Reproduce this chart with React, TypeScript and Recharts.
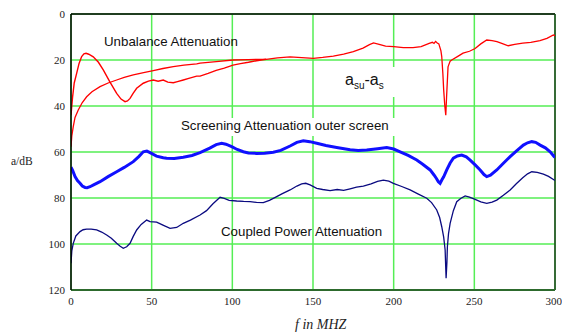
import { LineChart, Line, XAxis, YAxis, CartesianGrid, ReferenceLine } from "recharts";

// [f in MHz, a in dB]
const unbalanceA: number[][] = [
  [0, 44], [1, 36], [2, 30], [3.5, 25.8], [5, 21.5], [6.6, 18.5], [8, 17.3], [9.3, 17.1], [11, 17.5],
  [13.8, 18.6], [17, 21], [20, 24.3], [24, 29.4], [28.3, 34.5], [31, 37], [33.5, 38.1], [35, 37.8],
  [36.6, 36.7], [38.5, 34.5], [40.7, 32.3], [44.8, 30.1], [48, 29.2], [51, 28.7], [54, 29.2], [57.2, 28.7],
  [60, 29.6], [63.4, 29.9], [66, 29.4], [69.6, 28.7], [73, 28], [77.9, 27], [80, 27], [85, 25.8], [90, 24.5],
  [95, 23.5], [100.4, 22.2], [105, 21.6], [110, 21], [115, 20.3], [121, 19.7],
];

const unbalanceB: number[][] = [
  [0, 57.7], [0.5, 53], [1.4, 49], [2.5, 45], [4.5, 41.7], [7, 38.5], [9.7, 36], [13, 33.8], [18, 31.6],
  [23, 30], [28.3, 28.7], [33, 27.6], [38.6, 26.5], [45, 25.5], [51, 24.6], [57, 23.7], [63.4, 22.9],
  [70, 22.2], [77.9, 21.7], [80, 21.4], [90, 20.7], [100.4, 20], [110, 19.8], [121, 19.7], [128, 19.1],
  [135.8, 18.6], [143, 19], [150.2, 19.3], [156, 18.9], [162.6, 18.3], [169, 17.4], [175, 16.4], [181, 14.8],
  [185, 13.3], [187.5, 12.6], [191, 13.2], [195, 14], [200, 14.2], [206, 14.6], [212, 14.6], [217, 14.2],
  [222, 12.8], [224, 12.3], [225, 12.8], [226, 11.9], [227, 12.6], [228, 13], [229.3, 16], [229.8, 18.5],
  [230.5, 26], [231, 33], [231.7, 40], [232.3, 44], [232.8, 36], [233.7, 23], [235, 20.5], [236, 20],
  [240, 18.3], [243, 17], [247, 16.2], [250.5, 15], [254, 13], [257.7, 11.3], [261, 11.6], [264, 12],
  [267, 12.8], [271, 13.8], [275, 13.2], [280, 12.7], [285, 12.3], [290.7, 11.6], [295, 10.6], [299, 9.1],
  [300, 9.5],
];

const screening: number[][] = [
  [0, 66.6], [1, 68], [2.5, 70.7], [4, 72.4], [5.6, 73.6], [7, 74.8], [8.7, 75.4], [10, 75.5], [11.8, 75.1],
  [14, 74.3], [18, 72.9], [23, 70.7], [28.3, 68.6], [33, 66.7], [38.6, 64.2], [42, 62], [44.8, 59.9],
  [47, 59.6], [49, 60.3], [53, 61.8], [57.2, 62.5], [59.3, 62.7], [64, 62.8], [69.6, 62.3], [75, 61.5],
  [80, 60.3], [86, 58.3], [90, 56.8], [93.4, 56.2], [96, 56.6], [99.6, 57.7], [103, 58.9], [106.8, 59.9],
  [110, 60.4], [115.1, 60.6], [120, 60.5], [125.4, 60.1], [130, 59.3], [135.8, 57.4], [140, 55.8],
  [144, 55.1], [148, 55.5], [152.3, 56.2], [158, 57.2], [164.7, 58], [173, 59], [178, 59.3], [183.3, 59.1],
  [190, 58.6], [195.7, 58.1], [200, 58.7], [204, 59.9], [209, 61.5], [214.3, 63.5], [218, 65.3],
  [222.6, 67.8], [225, 70], [226.5, 71.5], [227.7, 72.9], [228.8, 73.6], [230, 72], [231, 70.8],
  [232.9, 67.8], [235, 64.8], [237, 62.7], [239.5, 61.7], [242.2, 61.3], [245, 62.1], [247.4, 63.5],
  [250.5, 65.6], [253.6, 67.8], [256, 69.8], [257.7, 70.7], [260, 70.1], [263.9, 67.8], [268, 64.9],
  [272.2, 62], [276, 59.6], [280.4, 57], [283, 56], [285.6, 55.5], [288, 55.8], [290.8, 57], [294, 58.2],
  [297, 59.9], [299.5, 62], [300, 62.3],
];

const coupled: number[][] = [
  [0, 108.4], [0.5, 103], [1.4, 99.7], [3, 96.5], [5.6, 94.6], [7.5, 93.8], [9.7, 93.5], [12.5, 93.5],
  [15.9, 93.9], [19, 94.8], [22.1, 96.1], [25, 97.5], [28.3, 99.7], [30.5, 101], [32.4, 101.9],
  [34.5, 101.2], [36.6, 99.7], [38.5, 96.8], [40.7, 93.9], [43.5, 91.5], [46.9, 89.6], [49, 90.3],
  [53.1, 90.5], [57, 91.8], [61.4, 93.2], [65.5, 92.8], [69.6, 91], [74, 89.6], [80, 87.4], [84, 85.5],
  [88, 82.5], [92.4, 79.7], [95, 80.2], [98, 81], [102.7, 81.3], [107, 81.5], [111, 81.6], [115, 81.9],
  [119.2, 82], [123, 81], [127.5, 79.4], [131, 78.1], [135.8, 76.5], [140, 74.8], [143, 73.9],
  [145.5, 73.6], [148.2, 74.3], [152.3, 75.8], [156, 76.3], [160.6, 76.8], [165, 76.3], [169, 76.7],
  [173, 76], [177, 75.3], [181.2, 74.8], [186, 73.9], [190, 72.8], [193.6, 72.2], [197, 72.7],
  [199.8, 73.6], [205, 75], [210.2, 76.5], [215, 78.2], [220.5, 80.1], [223.5, 82], [226.7, 85.2],
  [228.5, 88.5], [229.8, 92.5], [231, 97], [231.9, 102.6], [232.5, 114.9], [233, 108], [233.3, 101.2],
  [234, 95.5], [235, 91], [237, 85.5], [239.1, 81.6], [241.5, 80.2], [244.3, 79.1], [247, 79.6],
  [250.5, 80.6], [254, 81.7], [257.7, 82.3], [261, 81.8], [263.9, 80.9], [268, 78.8], [272.2, 76.5],
  [276, 73.8], [280, 71.2], [283, 69.5], [285.6, 68.6], [289, 68.9], [292.8, 69.6], [296, 70.6],
  [299.5, 72.2], [300, 72.4],
];

const xTicks = [0, 50, 100, 150, 200, 250, 300];
const yTicks = [0, 20, 40, 60, 80, 100, 120];

const toRows = (pts: number[][]) => pts.map(([f, a]) => ({ f, a }));

const sans = "'Liberation Sans', Arial, sans-serif";
const serif = "'Liberation Serif', 'Times New Roman', serif";

const tickStyle = { fontFamily: serif, fontSize: 11, fill: "#222" };

const note = (left: number, top: number, extra: any = {}) => ({
  position: "absolute" as const,
  left,
  top,
  fontFamily: sans,
  fontSize: 13.3,
  lineHeight: "16px",
  color: "#111",
  whiteSpace: "nowrap" as const,
  ...extra,
});

export default function App() {
  return (
    <div style={{ position: "absolute", left: 0, top: 0, width: 562, height: 336, background: "#fff" }}>
      <LineChart width={562} height={336} margin={{ top: 14, right: 7, left: 0, bottom: 16 }}>
        <CartesianGrid stroke="#55ee55" strokeWidth={1.5} />
        <XAxis
          dataKey="f"
          type="number"
          domain={[0, 300]}
          ticks={xTicks}
          allowDataOverflow
          tickLine={false}
          tickSize={0}
          tickMargin={7}
          axisLine={{ stroke: "#2d6a2d", strokeWidth: 2 }}
          tick={tickStyle}
          height={30}
        />
        <YAxis
          type="number"
          reversed
          domain={[0, 120]}
          ticks={yTicks}
          allowDataOverflow
          tickLine={false}
          tickSize={0}
          tickMargin={6}
          axisLine={{ stroke: "#000", strokeWidth: 1.5 }}
          tick={tickStyle}
          width={71}
        />
        <ReferenceLine y={0} stroke="#000" strokeWidth={1.5} />
        <ReferenceLine x={300} stroke="#1e3e1e" strokeWidth={1.5} />
        <Line data={toRows(unbalanceA)} dataKey="a" type="linear" stroke="#ff0000" strokeWidth={1.4} dot={false} isAnimationActive={false} />
        <Line data={toRows(unbalanceB)} dataKey="a" type="linear" stroke="#ff0000" strokeWidth={1.3} dot={false} isAnimationActive={false} />
        <Line data={toRows(screening)} dataKey="a" type="linear" stroke="#1010ff" strokeWidth={3} dot={false} isAnimationActive={false} />
        <Line data={toRows(coupled)} dataKey="a" type="linear" stroke="#0a0a80" strokeWidth={1.3} dot={false} isAnimationActive={false} />
      </LineChart>

      <div style={note(104, 34)}>Unbalance Attenuation</div>
      <div style={note(335, 67, { width: 65, height: 30, background: "#fff", fontSize: 16, lineHeight: "26px", paddingLeft: 10, boxSizing: "border-box" })}>
        a<sub style={{ fontSize: 10 }}>su</sub>-a<sub style={{ fontSize: 10 }}>s</sub>
      </div>
      <div style={note(175, 118, { width: 223, height: 18, background: "#fff", paddingLeft: 6, boxSizing: "border-box" })}>
        Screening Attenuation outer screen
      </div>
      <div style={note(221, 224)}>Coupled Power Attenuation</div>

      <div style={{ position: "absolute", left: 11, top: 153, fontFamily: serif, fontSize: 11.5, lineHeight: "16px", color: "#222" }}>a/dB</div>
      <div style={{ position: "absolute", left: 295, top: 316, fontFamily: serif, fontSize: 14, fontStyle: "italic", lineHeight: "18px", color: "#222" }}>f in MHZ</div>
    </div>
  );
}
